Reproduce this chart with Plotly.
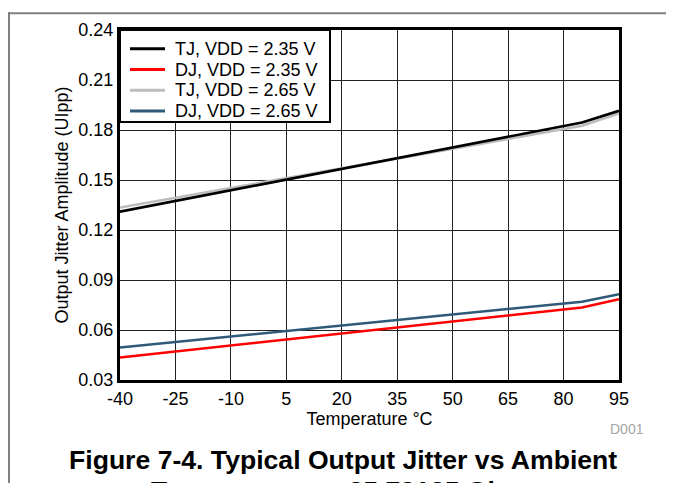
import plotly.graph_objects as go

temps = [-40, 85, 95]
tj_235 = [0.131, 0.1845, 0.1915]
dj_235 = [0.0435, 0.0735, 0.0785]
tj_265 = [0.1335, 0.1825, 0.1900]
dj_265 = [0.0495, 0.0770, 0.0815]

x_ticks = [-40, -25, -10, 5, 20, 35, 50, 65, 80, 95]
y_ticks = [0.03, 0.06, 0.09, 0.12, 0.15, 0.18, 0.21, 0.24]

series = [
    ("TJ, VDD = 2.35 V", tj_235, "#000000"),
    ("DJ, VDD = 2.35 V", dj_235, "#ff0000"),
    ("TJ, VDD = 2.65 V", tj_265, "#bdbdbd"),
    ("DJ, VDD = 2.65 V", dj_265, "#2e5a78"),
]

# The page body has an 8px default margin; layout is offset to compensate.
L, T, PW, PH = 112, 18, 499, 354
W, H = 674, 483


def px(xf):
    return (xf - L) / PW


def py(yf):
    return (T + PH - yf) / PH


fig = go.Figure()
for idx in [2, 3, 1, 0]:
    name, ys, col = series[idx]
    fig.add_trace(go.Scatter(x=temps, y=ys, mode="lines", name=name,
                             line=dict(color=col, width=2.6), showlegend=False))

font = "Liberation Sans, Arial, sans-serif"
fig.update_layout(
    width=W, height=H,
    margin=dict(l=L, r=W - L - PW, t=T, b=H - T - PH),
    paper_bgcolor="white", plot_bgcolor="white",
    font=dict(family=font, size=18, color="black"),
    showlegend=False,
    xaxis=dict(range=[-40, 95], tickvals=x_ticks, ticktext=[str(v) for v in x_ticks],
               showgrid=True, gridcolor="#222222", gridwidth=1,
               showline=True, linecolor="black", linewidth=3, mirror=True,
               ticks="", zeroline=False,
               title=dict(text="Temperature °C", font=dict(size=18), standoff=2),
               tickfont=dict(size=18)),
    yaxis=dict(range=[0.03, 0.24], tickvals=y_ticks, ticktext=[f"{v:.2f}" for v in y_ticks],
               showgrid=True, gridcolor="#222222", gridwidth=1,
               showline=True, linecolor="black", linewidth=3, mirror=True,
               ticks="", zeroline=False,
               title=dict(text="Output Jitter Amplitude (UIpp)", font=dict(size=18), standoff=6),
               tickfont=dict(size=18)),
)

# legend box (drawn as layout shapes and text)
fig.add_shape(type="rect", xref="paper", yref="paper",
              x0=0, x1=px(322), y0=py(111), y1=1,
              fillcolor="white", line=dict(color="black", width=2), layer="above")
leg_rows = [37, 58, 79, 100]
for (name, ys, col), yr in zip(series, leg_rows):
    fig.add_shape(type="line", xref="paper", yref="paper",
                  x0=px(122), x1=px(157), y0=py(yr), y1=py(yr),
                  line=dict(color=col, width=3), layer="above")
    fig.add_annotation(text=name, xref="paper", yref="paper", x=px(165), y=py(yr),
                       xanchor="left", yanchor="middle", showarrow=False,
                       font=dict(size=18, color="black", family=font))

fig.add_annotation(text="D001", xref="paper", yref="paper", x=px(638), y=py(422),
                   xanchor="right", yanchor="middle", showarrow=False,
                   font=dict(size=14, color="#a6a6a6", family=font))
fig.add_annotation(text="<b>Figure 7-4. Typical Output Jitter vs Ambient</b>",
                   xref="paper", yref="paper", x=px(335), y=py(453),
                   xanchor="center", yanchor="middle", showarrow=False,
                   font=dict(size=26.6, color="black", family=font))
fig.add_annotation(text="<b>Temperature at 25.78125 Gbps</b>",
                   xref="paper", yref="paper", x=px(335), y=py(484),
                   xanchor="center", yanchor="middle", showarrow=False,
                   font=dict(size=26.6, color="black", family=font))

# page frame lines
fig.add_shape(type="line", xref="paper", yref="paper",
              x0=px(0), x1=px(W), y0=py(1), y1=py(1),
              line=dict(color="#808080", width=2))
fig.add_shape(type="line", xref="paper", yref="paper",
              x0=px(1), x1=px(1), y0=py(0), y1=py(H),
              line=dict(color="#808080", width=2))

fig.write_html("out.html")
